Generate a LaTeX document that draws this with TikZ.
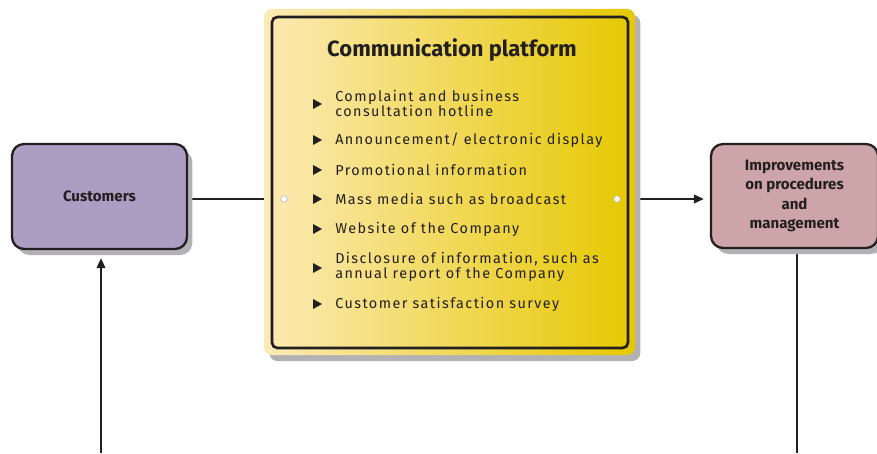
\documentclass[tikz,border=0pt]{standalone}
\usepackage{fontspec}
\setmainfont{Fira Sans}
\newfontfamily\itemfont[LetterSpace=10]{Fira Sans}
\usetikzlibrary{shadows,backgrounds,arrows.meta}

\definecolor{ink}{RGB}{35,31,32}
\definecolor{shade}{RGB}{178,178,181}
\definecolor{custfill}{RGB}{172,157,195}
\definecolor{imprfill}{RGB}{205,165,168}
\definecolor{platlight}{RGB}{252,234,182}
\definecolor{platdark}{RGB}{230,200,0}

\tikzset{
  boxshadow/.style={general shadow={fill=shade, shadow xshift=4pt, shadow yshift=-4.5pt}},
  sidebox/.style={draw=ink, line width=1.7pt, rounded corners=9pt, boxshadow,
    font=\bfseries\fontsize{11.3}{14.6}\selectfont, text=ink, align=center},
  panel/.style={rounded corners=6pt, shading=axis, left color=platlight, right color=platdark, boxshadow},
  frame/.style={draw=ink, line width=2pt, rounded corners=4pt},
  pin/.style={circle, fill=white, draw=shade, line width=0.4pt, inner sep=0pt, minimum size=5pt},
  itemtext/.style={anchor=west, align=left, text=ink, inner sep=0pt,
    font=\itemfont\fontsize{10.8}{11.25}\selectfont},
  link/.style={draw=ink, line width=1.4pt},
  tip/.style={-{Triangle[length=7.5pt,width=6.5pt]}}
}

\begin{document}
\begin{tikzpicture}[x=0.75pt,y=-0.75pt]
\useasboundingbox (0,0) rectangle (877,453);

% side boxes
\node[sidebox, fill=custfill, minimum width=131.25pt, minimum height=78.75pt] (cust) at (99.5,196.5) {Customers};
\node[sidebox, fill=imprfill, minimum width=125.25pt, minimum height=78pt] (impr) at (794.5,196)
  {Improvements\\on procedures\\and\\management};

% communication platform panel
\node[panel, minimum width=278.25pt, minimum height=259.5pt] (plat) at (449.5,182) {};
\node[frame, minimum width=267pt, minimum height=248.25pt] (frm) at (450,182.5) {};
\node[pin] (pinL) at (284,199) {};
\node[pin] (pinR) at (617,199) {};

\node[text=ink, font=\bfseries\fontsize{16.5}{19}\selectfont] (title) at (452,50) {Communication platform};

% bullet list
\foreach \y in {104,140,170,199,229,268,304}
  \fill[ink] (313,\y-5) -- (322,\y) -- (313,\y+5) -- cycle;
\node[itemtext] (i1) at (335,103) {Complaint and business\\consultation hotline};
\node[itemtext] (i2) at (335,140) {Announcement/ electronic display};
\node[itemtext] (i3) at (335,170) {Promotional information};
\node[itemtext] (i4) at (335,199) {Mass media such as broadcast};
\node[itemtext] (i5) at (335,229) {Website of the Company};
\node[itemtext] (i6) at (335,267) {Disclosure of information, such as\\annual report of the Company};
\node[itemtext] (i7) at (335,304) {Customer satisfaction survey};

\coordinate (custin) at (101,453);
\coordinate (improut) at (797,453);

% connectors, kept behind the boxes and their shadows
\begin{pgfonlayer}{background}
  \draw[link] (pinL -| cust.east) -- (pinL -| plat.west);
  \draw[link, tip, shorten >=4.5pt] (pinR -| plat.east) -- (pinR -| impr.west);
  \draw[link, tip, shorten >=6pt] (custin) -- (custin |- cust.south);
  \draw[link] (improut |- impr.south) -- (improut);
\end{pgfonlayer}
\end{tikzpicture}
\end{document}
